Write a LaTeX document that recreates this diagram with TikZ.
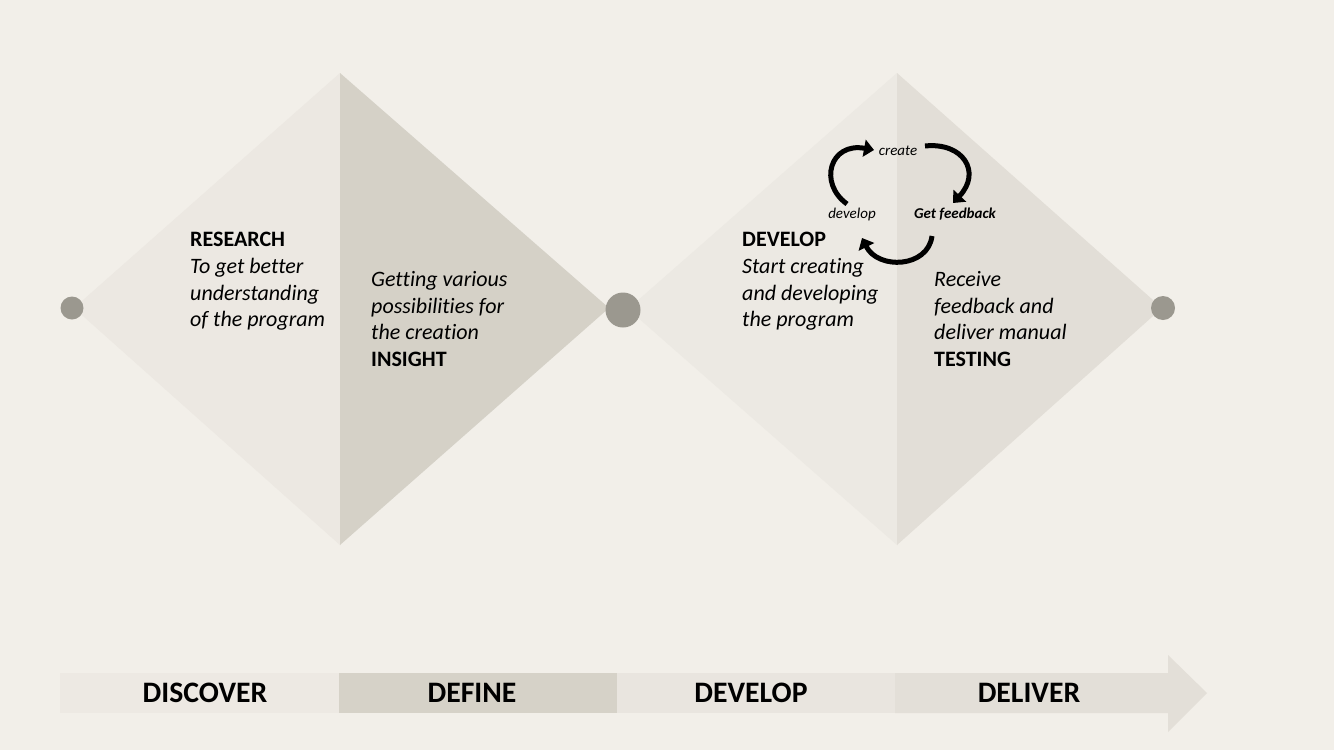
\documentclass[tikz,border=0pt]{standalone}
\usepackage{fontspec}
\setmainfont{Carlito}[Ligatures={NoCommon}]
\usetikzlibrary{arrows.meta}
\definecolor{bg}{HTML}{F2EFE9}
\definecolor{lightA}{HTML}{ECE8E2}
\definecolor{darkA}{HTML}{D5D1C7}
\definecolor{lightB}{HTML}{ECE9E3}
\definecolor{darkB}{HTML}{E2DED7}
\definecolor{barA}{HTML}{EDE9E3}
\definecolor{barB}{HTML}{D6D2C8}
\definecolor{barC}{HTML}{E9E5DF}
\definecolor{barD}{HTML}{E3DFD8}
\definecolor{dotc}{HTML}{9B988F}
\tikzset{
  dotnode/.style={circle,fill=dotc,draw=none,inner sep=0pt},
  blocktext/.style={anchor=north west,inner sep=0pt,align=left,font=\fontsize{22}{26.7}\selectfont},
  phase/.style={inner sep=0pt,font=\fontsize{29.7}{32}\selectfont\bfseries},
  looplabel/.style={inner sep=1pt,font=\fontsize{15}{17}\selectfont\itshape},
  looparrow/.style={line width=5pt,-{Triangle[length=10pt,width=17pt]}},
}
\begin{document}
\begin{tikzpicture}[x=1pt,y=-1pt]
\useasboundingbox (0,0) rectangle (1334,750);
\fill[bg] (0,0) rectangle (1334,750);
% diamond 1
\fill[lightA] (74,308) -- (340,73) -- (340,545) -- cycle;
\fill[darkA] (340,73) -- (609,308) -- (340,545) -- cycle;
% diamond 2
\fill[lightB] (628,309) -- (897,73) -- (897,545) -- cycle;
\fill[darkB] (897,73) -- (1162,308) -- (897,545) -- cycle;
% dots
\node[dotnode,minimum width=22pt,minimum height=23pt] (d1) at (72,308) {};
\node[dotnode,minimum width=33pt,minimum height=35pt] (d2) at (623,310) {};
\node[dotnode,minimum width=22pt,minimum height=24pt] (d3) at (1163,308) {};
% texts
\node[blocktext] (research) at (190,232) {\textbf{RESEARCH}\\\textit{To get better}\\\textit{understanding}\\\textit{of the program}};
\node[blocktext] (insight) at (371,271) {\textit{Getting various}\\\textit{possibilities for}\\\textit{the creation}\\\textbf{INSIGHT}};
\node[blocktext] (develop) at (742,232) {\textbf{DEVELOP}\\\textit{Start creating}\\\textit{and developing}\\\textit{the program}};
\node[blocktext] (testing) at (934,271) {\textit{Receive}\\\textit{feedback and}\\\textit{deliver manual}\\\textbf{TESTING}};
% loop
\node[looplabel] (create) at (898,151) {create};
\node[looplabel] (dev) at (852,214) {develop};
\node[looplabel,font=\fontsize{15}{17}\selectfont\bfseries\itshape] (fb) at (955,214) {Get feedback};
\coordinate (a1s) at (847,204);
\coordinate (a1e) at (874,150);
\coordinate (a2s) at (925,146);
\coordinate (a2e) at (953,203);
\coordinate (a3s) at (932,236);
\coordinate (a3e) at (862,238);
\draw[looparrow] (a1s) .. controls (818,183) and (830,142) .. (a1e);
\draw[looparrow] (a2s) .. controls (963,142) and (982,172) .. (a2e);
\draw[looparrow] (a3s) .. controls (928,268) and (878,270) .. (a3e);
% bottom arrow
\fill[barA] (60,673) rectangle (339,713);
\fill[barB] (339,673) rectangle (617,713);
\fill[barC] (617,673) rectangle (895,713);
\fill[barD] (895,673) -- (1168,673) -- (1168,655) -- (1207,693) -- (1168,732) -- (1168,713) -- (895,713) -- cycle;
\node[phase] (discover) at (205,693) {DISCOVER};
\node[phase] (define) at (472,693) {DEFINE};
\node[phase] (develop2) at (751,693) {DEVELOP};
\node[phase] (deliver) at (1029,693) {DELIVER};
\end{tikzpicture}
\end{document}
